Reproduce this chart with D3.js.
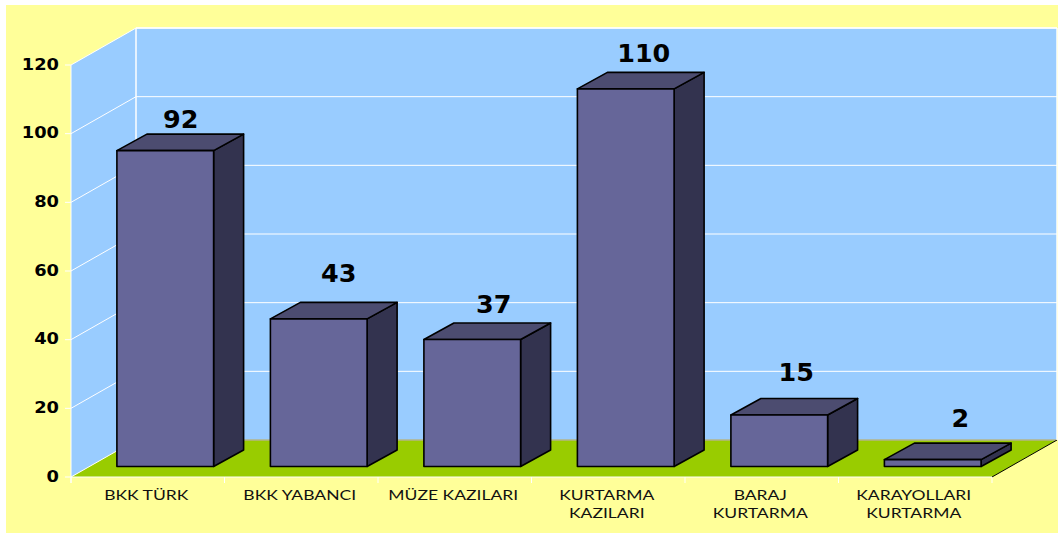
<!DOCTYPE html>
<html>
<head>
<meta charset="utf-8">
<script src="https://cdn.jsdelivr.net/npm/d3@7"></script>
<style>
html,body{margin:0;padding:0;background:#fff;}
svg{display:block;}
</style>
</head>
<body>
<div id="chart"></div>
<script>
var categories = [["BKK TÜRK"],["BKK YABANCI"],["MÜZE KAZILARI"],["KURTARMA","KAZILARI"],["BARAJ","KURTARMA"],["KARAYOLLARI","KURTARMA"]];
var values = [92,43,37,110,15,2];
var yTicks = [0,20,40,60,80,100,120];

var W = 1058, H = 534;
var svg = d3.select("#chart").append("svg").attr("width",W).attr("height",H);

// plain front plane, walls are pushed back by dx,dy
var x0 = 71, x1 = 992, yb = 477, yt = 65;
var dx = 65, dy = -37;
var barDx = 30, barDy = -16.5;
var liftX = 17.5, liftY = -10.5; // bars sit a bit in from the front edge
// the value labels were dragged by hand in the original
var nudgeX = [15.5,20,21.5,18,17,27.5];
var nudgeY = [-6,-20,-10,-10,-18,-16];

var x = d3.scaleBand().domain(d3.range(values.length)).range([x0,x1]).paddingInner(0.37).paddingOuter(0.185);
var y = d3.scaleLinear().domain([0,120]).range([yb,yt]);
var line = d3.line();

// widen a text element, the original font is wider than anything installed
function stretch(sel,f){
  sel.attr("textLength",sel.node().getComputedTextLength()*f).attr("lengthAdjust","spacingAndGlyphs");
}

svg.append("rect").attr("x",6).attr("y",5).attr("width",W-6).attr("height",528).attr("fill","#ffff99");

// back wall + side wall
svg.append("path").attr("d",line([[x0+dx,yt+dy],[x1+dx,yt+dy],[x1+dx,yb+dy],[x0+dx,yb+dy]])+"Z").attr("fill","#99ccff");
svg.append("path").attr("d",line([[x0,yt],[x0+dx,yt+dy],[x0+dx,yb+dy],[x0,yb]])+"Z").attr("fill","#99ccff");

// floor
svg.append("path").attr("d",line([[x0,yb],[x1,yb],[x1+dx,yb+dy],[x0+dx,yb+dy]])+"Z").attr("fill","#99cc00");
svg.append("path").attr("d",line([[x0+dx,yb+dy],[x1+dx,yb+dy]])).attr("stroke","#b5b58a").attr("stroke-width",1.5).attr("fill","none");
svg.append("path").attr("d",line([[x1,yb],[x1+dx,yb+dy]])).attr("stroke","#000").attr("stroke-width",1).attr("fill","none");

// grid
yTicks.forEach(function(t){
  var p = y(t);
  if(t>0){
    svg.append("path").attr("d",line([[x0,p],[x0+dx,p+dy],[x1+dx,p+dy]])).attr("stroke","#fff").attr("stroke-width",1).attr("fill","none");
  } else {
    svg.append("path").attr("d",line([[x0,p],[x0+dx,p+dy]])).attr("stroke","#fff").attr("stroke-width",1).attr("fill","none");
  }
  svg.append("line").attr("x1",x0-6).attr("x2",x0).attr("y1",p).attr("y2",p).attr("stroke","#fff");
  svg.append("text").attr("x",x0-12).attr("y",p+4.5)
    .attr("text-anchor","end")
    .style("font-family","'DejaVu Sans'").style("font-weight","bold").style("font-size","15.5px")
    .text(t).call(stretch,1.15);
});
svg.append("line").attr("x1",x0).attr("x2",x0).attr("y1",yt).attr("y2",yb+6).attr("stroke","#fff");
svg.append("line").attr("x1",x0+dx).attr("x2",x0+dx).attr("y1",yt+dy).attr("y2",yb+dy).attr("stroke","#fff").attr("stroke-width",1.5);
svg.append("line").attr("x1",x0+dx).attr("x2",x1+dx).attr("y1",yt+dy).attr("y2",yt+dy).attr("stroke","#fff").attr("stroke-width",1.5);
svg.append("line").attr("x1",x1+dx).attr("x2",x1+dx).attr("y1",yt+dy).attr("y2",yb+dy).attr("stroke","#fff").attr("stroke-width",1.5);
svg.append("line").attr("x1",x0).attr("x2",x1).attr("y1",yb).attr("y2",yb).attr("stroke","#fff");

// category ticks and labels
var step = (x1-x0)/values.length;
d3.range(values.length+1).forEach(function(i){
  svg.append("line").attr("x1",x0+i*step).attr("x2",x0+i*step).attr("y1",yb).attr("y2",yb+6).attr("stroke","#fff");
});
categories.forEach(function(c,i){
  c.forEach(function(s,j){
    svg.append("text").attr("x",x0+(i+0.5)*step-1.5).attr("y",500+j*18)
      .attr("text-anchor","middle")
      .style("font-family","Lato").style("font-size","14px").style("fill","#111")
      .text(s).call(stretch,1.25);
  });
});

// bars
values.forEach(function(v,i){
  var l = x(i)+liftX, r = l+x.bandwidth();
  var b = yb+liftY, t = y(v)+liftY;
  var g = svg.append("g").attr("stroke","#000").attr("stroke-width",1.6).attr("stroke-linejoin","round");
  g.append("path").attr("d",line([[r,b],[r+barDx,b+barDy],[r+barDx,t+barDy],[r,t]])+"Z").attr("fill","#33334f");
  g.append("path").attr("d",line([[l,t],[r,t],[r+barDx,t+barDy],[l+barDx,t+barDy]])+"Z").attr("fill","#4c4c70");
  g.append("rect").attr("x",l).attr("y",t).attr("width",r-l).attr("height",b-t).attr("fill","#666699");
  svg.append("text").attr("x",(l+r)/2+nudgeX[i]).attr("y",t+barDy+nudgeY[i])
    .attr("text-anchor","middle")
    .style("font-family","'DejaVu Sans'").style("font-weight","bold").style("font-size","24px")
    .text(v).call(stretch,1.06);
});
</script>
</body>
</html>
